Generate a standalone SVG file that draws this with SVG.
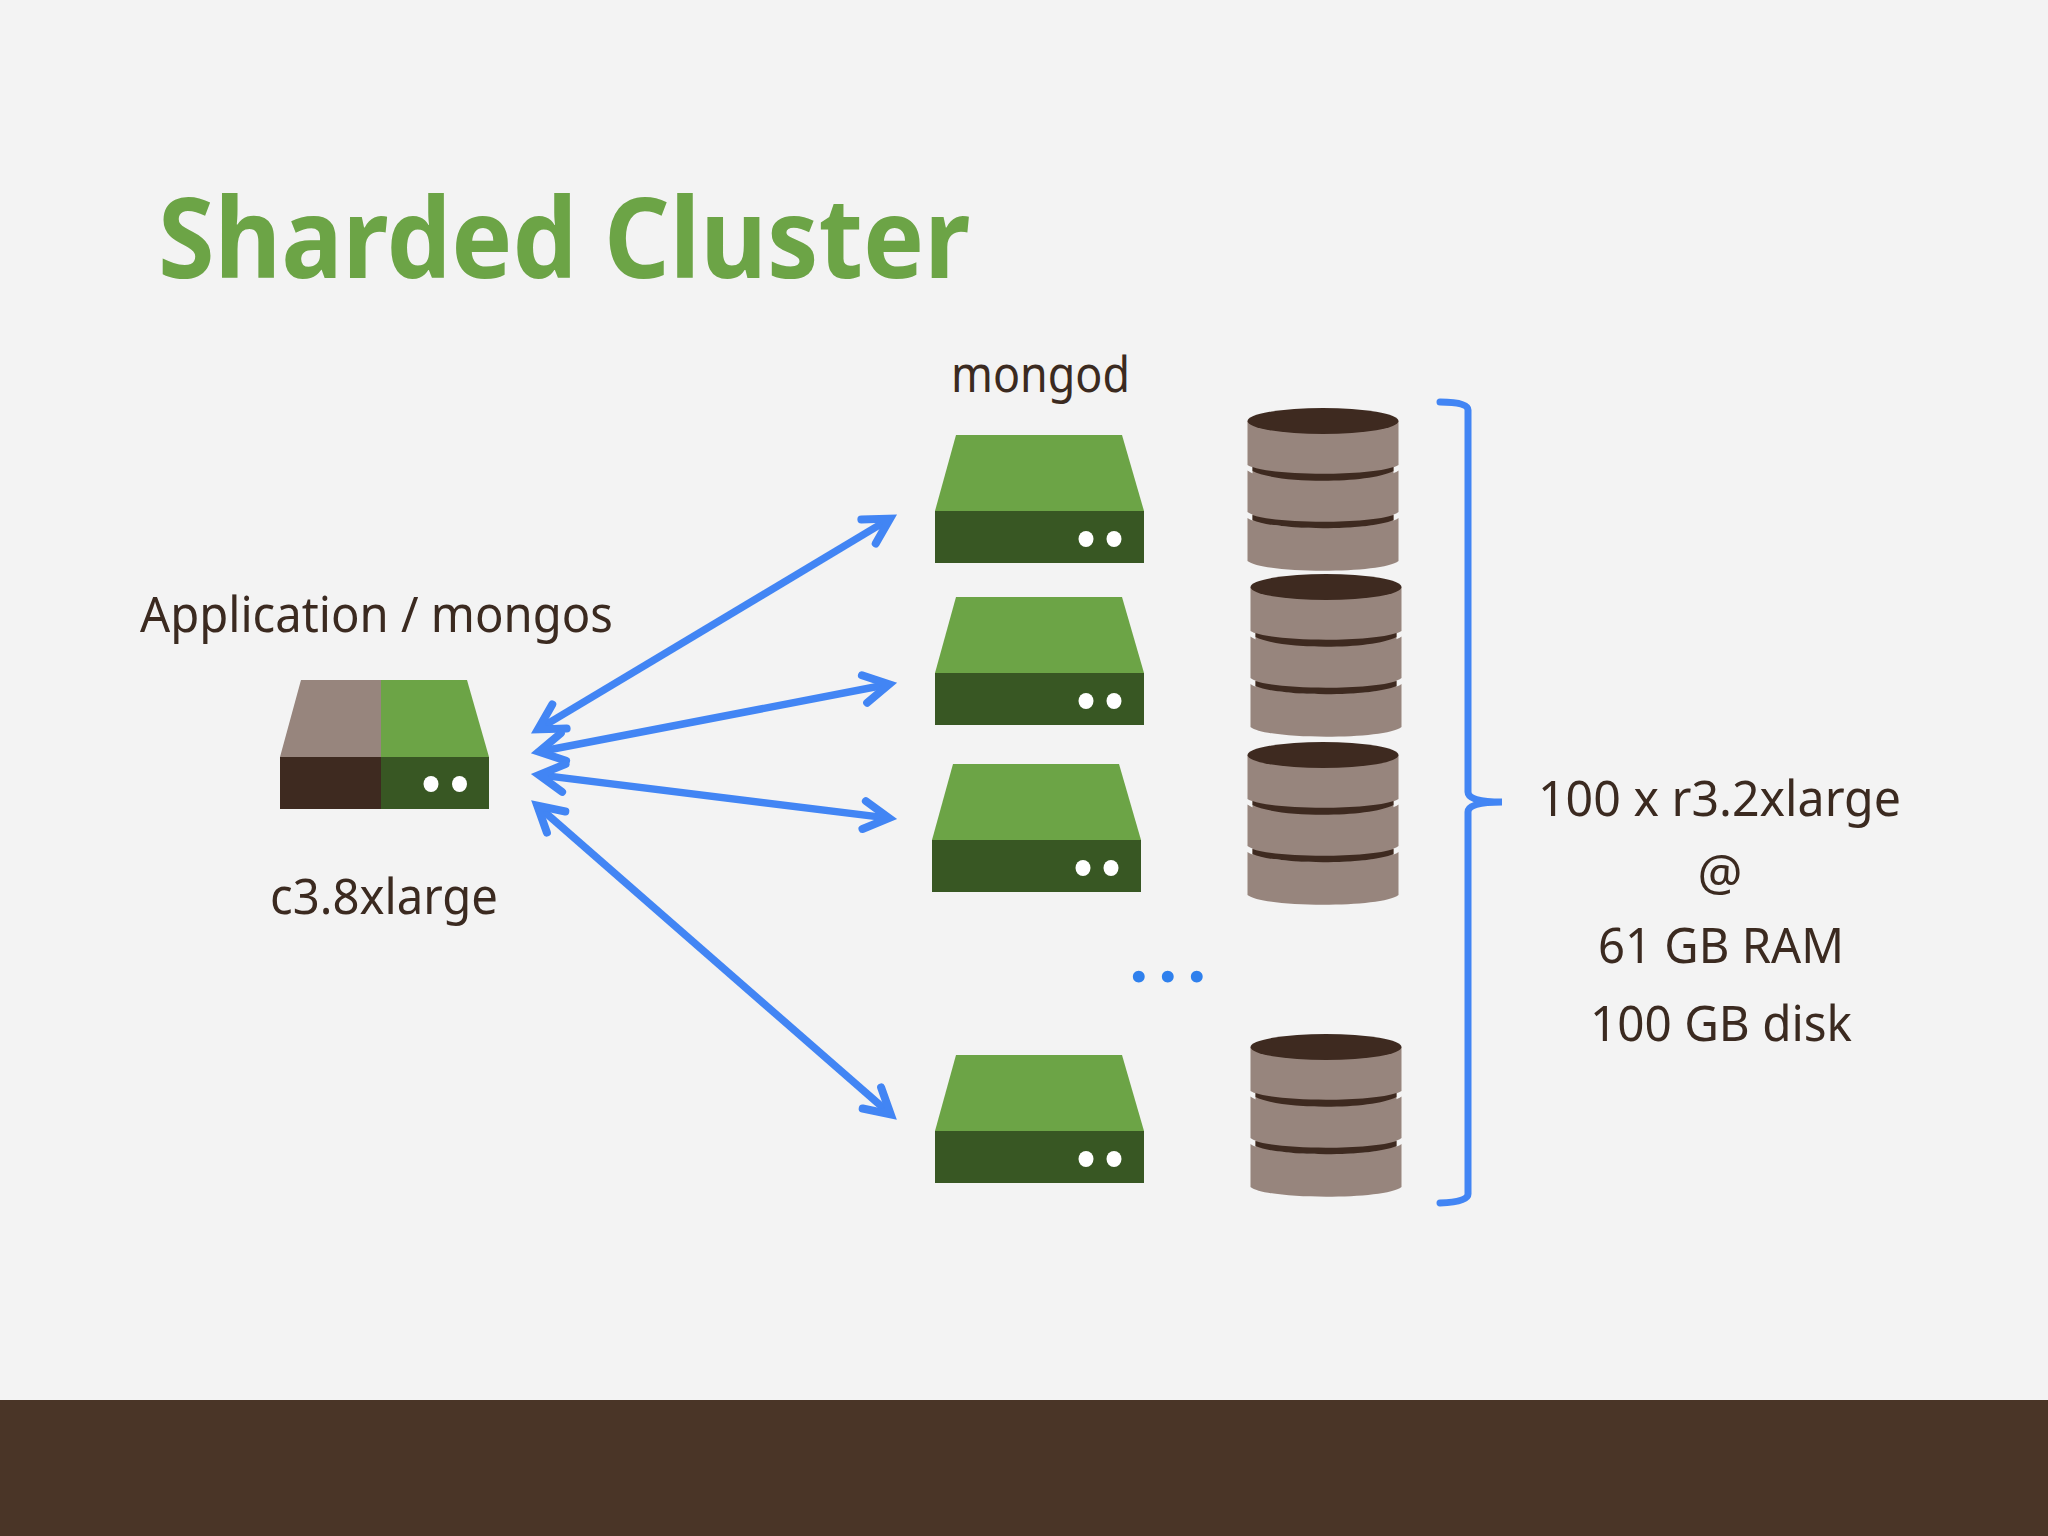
<svg xmlns="http://www.w3.org/2000/svg" width="2048" height="1536" viewBox="0 0 2048 1536">
<style>
.t{font-family:"Noto Sans","Open Sans","Liberation Sans",sans-serif;font-size:50px;fill:#3b2a20}
.title{font-family:"Noto Sans","Open Sans","Liberation Sans",sans-serif;font-size:112px;font-weight:700;fill:#6ca446}
.lt{fill:#6ca446}.dk{fill:#385723}.gy{fill:#97857d}.br{fill:#3e2a20}.dot{fill:#fff}
.arrow{fill:none;stroke:#4285f4;stroke-width:7.500;marker-start:url(#head);marker-end:url(#head)}
.brace{fill:none;stroke:#4285f4;stroke-width:7;stroke-linecap:round}
</style>
<defs>
<marker id="head" markerUnits="userSpaceOnUse" markerWidth="80" markerHeight="80" viewBox="-60 -40 80 80" refX="0" refY="0" orient="auto-start-reverse">
<path d="M-25,-14L0,0L-25,14" fill="none" stroke="#4285f4" stroke-width="8" stroke-linecap="round" stroke-miterlimit="10"/>
</marker>
<g id="server">
<polygon class="lt" points="21,0 187,0 209,76 0,76"/>
<rect class="dk" x="0" y="76" width="209" height="52"/>
<ellipse class="dot" cx="151" cy="104" rx="7.5" ry="8"/>
<ellipse class="dot" cx="179" cy="104" rx="7.5" ry="8"/>
</g>
<g id="cyl">
<rect class="gy" x="5" y="40" width="141" height="64"/>
<path class="gy" d="M0,0V44C16,55 135,55 151,44V0Z"/>
<path class="gy" d="M0,49.500C16,63 135,63 151,49.500V91C135,104 16,104 0,91Z"/>
<path class="gy" d="M0,97C16,110 135,110 151,97V140C135,153 16,153 0,140Z"/>
<ellipse class="br" cx="75.500" cy="0" rx="75.500" ry="13"/>
<path class="br" d="M5,46C30,55 121,55 146,46V50C121,63 30,63 5,50Z"/>
<path class="br" d="M5,94C30,103 121,103 146,94V99C121,110 30,110 5,99Z"/>
</g>
</defs>
<rect id="background" width="2048" height="1536" fill="#f3f3f3"/>
<rect id="footer" y="1400" width="2048" height="136" fill="#4a3527"/>
<text id="title" class="title" x="158" y="278" textLength="812" lengthAdjust="spacingAndGlyphs">Sharded Cluster</text>
<g id="app-server">
<text class="t" x="140" y="632" textLength="473" lengthAdjust="spacingAndGlyphs">Application / mongos</text>
<polygon class="gy" points="301,680 381,680 381,757 280,757"/>
<rect class="br" x="280" y="757" width="101" height="52"/>
<polygon class="lt" points="381,680 467,680 489,757 381,757"/>
<rect class="dk" x="381" y="757" width="108" height="52"/>
<ellipse class="dot" cx="431" cy="784" rx="7.5" ry="8"/>
<ellipse class="dot" cx="459.500" cy="784" rx="7.5" ry="8"/>
<text class="t" x="270" y="914" textLength="228" lengthAdjust="spacingAndGlyphs">c3.8xlarge</text>
</g>
<text id="mongod-label" class="t" x="951" y="392" textLength="179" lengthAdjust="spacingAndGlyphs">mongod</text>
<g id="server-1"><use href="#server" x="935" y="435"/></g>
<g id="server-2"><use href="#server" x="935" y="597"/></g>
<g id="server-3"><use href="#server" x="932" y="764"/></g>
<g id="server-4"><use href="#server" x="935" y="1055"/></g>
<g id="disk-1"><use href="#cyl" x="1247.500" y="421"/></g>
<g id="disk-2"><use href="#cyl" x="1250.500" y="587"/></g>
<g id="disk-3"><use href="#cyl" x="1247.500" y="755"/></g>
<g id="disk-4"><use href="#cyl" x="1250.500" y="1047"/></g>
<g id="connectors">
<line class="arrow" x1="538" y1="729.400" x2="890" y2="518.600"/>
<line class="arrow" x1="538.900" y1="751.700" x2="889.100" y2="684.300"/>
<line class="arrow" x1="539" y1="774.900" x2="889" y2="818.100"/>
<line class="arrow" x1="537.300" y1="805.600" x2="890.700" y2="1114.400"/>
<path class="brace" d="M1440,402Q1468,402 1468,410V792Q1468,802 1502,802Q1468,802 1468,812V1194Q1468,1202 1440,1203"/>
</g>
<text id="ellipsis" x="1129.500 1158.500 1187.500" y="982" font-family="Lato,sans-serif" font-weight="700" font-size="78" fill="#2f80ed">...</text>
<g id="spec-label">
<text class="t" x="1538" y="816" textLength="363" lengthAdjust="spacingAndGlyphs">100 x r3.2xlarge</text>
<text class="t" x="1720" y="890" text-anchor="middle">@</text>
<text class="t" x="1598" y="963" textLength="246" lengthAdjust="spacingAndGlyphs">61 GB RAM</text>
<text class="t" x="1590" y="1041" textLength="262" lengthAdjust="spacingAndGlyphs">100 GB disk</text>
</g>
</svg>
